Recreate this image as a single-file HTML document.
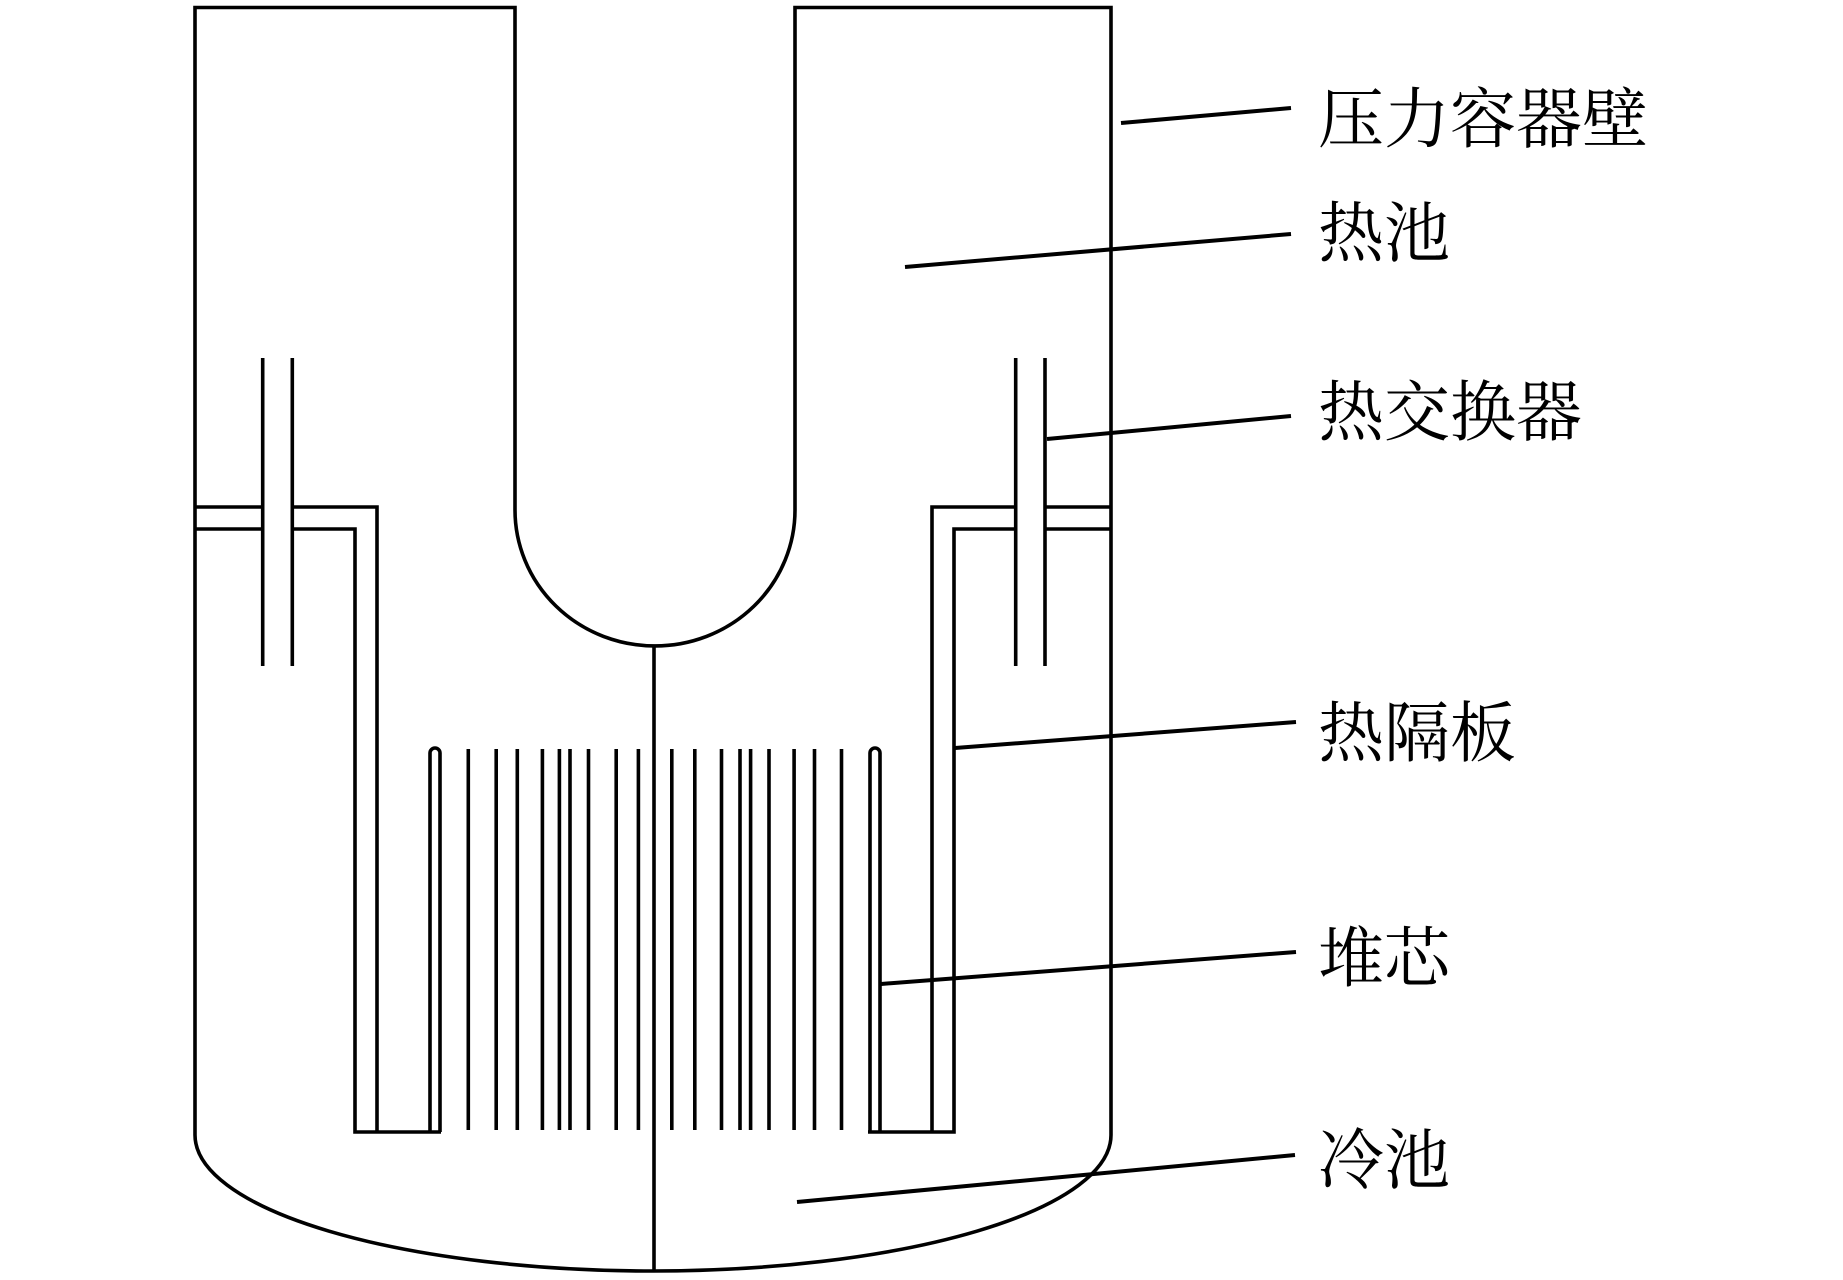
<!DOCTYPE html>
<html>
<head>
<meta charset="utf-8">
<style>
  html, body { margin: 0; padding: 0; background: #fff; }
  body { width: 1843px; height: 1280px; overflow: hidden; }
  svg { display: block; }
  text { font-family: "Liberation Serif", "Noto Serif CJK SC", "Noto Sans CJK SC", serif; font-size: 66px; fill: #000; }
</style>
</head>
<body>
<svg width="1843" height="1280" viewBox="0 0 1843 1280" xmlns="http://www.w3.org/2000/svg">
  <g fill="none" stroke="#000" stroke-width="3.6" stroke-linejoin="miter" stroke-linecap="butt">
    <!-- Vessel outline with inner U (hot pool boundary) -->
    <path d="M 515 510 V 7.5 H 195 V 1135 A 458 136 0 0 0 1111 1135 V 7.5 H 795 V 510 A 140 136 0 0 1 515 510"/>
    <!-- center line -->
    <path d="M 654 646 V 1271"/>

    <!-- Left heat exchanger pipes -->
    <path d="M 262.7 358 V 666"/>
    <path d="M 292.3 358 V 666"/>
    <!-- Right heat exchanger pipes -->
    <path d="M 1015.7 358 V 666"/>
    <path d="M 1045 358 V 666"/>

    <!-- Left baffle -->
    <path d="M 195 507 H 262.7"/>
    <path d="M 292.3 507 H 377 V 1132"/>
    <path d="M 195 529 H 262.7"/>
    <path d="M 292.3 529 H 355 V 1132 H 441"/>

    <!-- Right baffle -->
    <path d="M 1111 507 H 1045"/>
    <path d="M 1015.7 507 H 932 V 1132"/>
    <path d="M 1111 529 H 1045"/>
    <path d="M 1015.7 529 H 954 V 1132 H 868"/>

    <!-- Hairpin rods -->
    <path d="M 430 1132 V 753 A 5 5 0 0 1 440 753 V 1132"/>
    <path d="M 870 1132 V 753 A 5 5 0 0 1 880 753 V 1132"/>

    <!-- Core rods -->
    <path d="M 468.3 749 V 1130"/>
    <path d="M 496.2 749 V 1130"/>
    <path d="M 517.3 749 V 1130"/>
    <path d="M 542.4 749 V 1130"/>
    <path d="M 559.4 749 V 1130"/>
    <path d="M 570 749 V 1130"/>
    <path d="M 588.5 749 V 1130"/>
    <path d="M 616.2 749 V 1130"/>
    <path d="M 638.4 749 V 1130"/>
    <path d="M 671.8 749 V 1130"/>
    <path d="M 694.8 749 V 1130"/>
    <path d="M 721.5 749 V 1130"/>
    <path d="M 740 749 V 1130"/>
    <path d="M 750.6 749 V 1130"/>
    <path d="M 769 749 V 1130"/>
    <path d="M 794.1 749 V 1130"/>
    <path d="M 814.5 749 V 1130"/>
    <path d="M 841.5 749 V 1130"/>
  </g>

  <!-- Leader lines -->
  <g fill="none" stroke="#000" stroke-width="4" stroke-linecap="butt">
    <path d="M 1121 123 L 1291 108"/>
    <path d="M 905 267 L 1291 234"/>
    <path d="M 1047 439 L 1291 416"/>
    <path d="M 955 748 L 1296 722"/>
    <path d="M 881 984 L 1296 952"/>
    <path d="M 797 1202 L 1295 1155"/>
  </g>

  <!-- Labels -->
  <text x="1318" y="142">压力容器壁</text>
  <text x="1318" y="256">热池</text>
  <text x="1318" y="435">热交换器</text>
  <text x="1318" y="756">热隔板</text>
  <text x="1318" y="981">堆芯</text>
  <text x="1318" y="1183">冷池</text>
</svg>
</body>
</html>
